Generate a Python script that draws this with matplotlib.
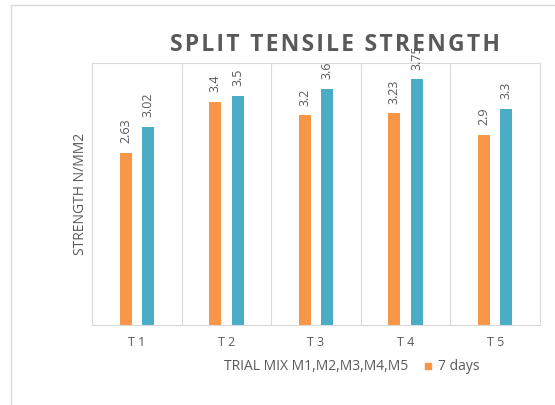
import numpy as np
import matplotlib.pyplot as plt
from matplotlib.lines import Line2D

trials = ['T 1', 'T 2', 'T 3', 'T 4', 'T 5']
days7 = [2.63, 3.4, 3.2, 3.23, 2.9]
days28 = [3.02, 3.5, 3.6, 3.75, 3.3]
labels7 = ['2.63', '3.4', '3.2', '3.23', '2.9']
labels28 = ['3.02', '3.5', '3.6', '3.75', '3.3']

orange = '#F79646'
teal = '#4BACC6'
grey = '#595959'
W, H = 555, 405

fig = plt.figure(figsize=(5.55, 4.05), dpi=100)
ax = fig.add_axes([92 / W, 1 - 325 / H, (540 - 92) / W, (325 - 63) / H])

x = np.arange(len(trials))
ax.bar(x - 0.125, days7, width=0.135, color=orange, label='7 days')
ax.bar(x + 0.125, days28, width=0.135, color=teal, label='28 days')

for i in range(len(trials)):
    ax.text(x[i] - 0.125, days7[i] + 0.15, labels7[i], rotation=90, ha='center', va='bottom',
            color=grey, fontsize=9, family='Open Sans')
    ax.text(x[i] + 0.125, days28[i] + 0.15, labels28[i], rotation=90, ha='center', va='bottom',
            color=grey, fontsize=9, family='Open Sans')

ax.set_xlim(-0.5, 4.5)
ax.set_ylim(0, 4)
ax.set_yticks([])
ax.set_xticks(x)
ax.set_xticklabels(trials, color=grey, fontsize=9, family='Open Sans')
ax.tick_params(axis='x', length=0, pad=8)
for b in np.arange(0.5, 4.5, 1):
    ax.axvline(b, color='#d9d9d9', lw=0.8, zorder=0)
for s in ax.spines.values():
    s.set_color('#d9d9d9')
    s.set_linewidth(0.8)

ax.set_ylabel('STRENGTH N/MM2', color=grey, fontsize=10, family='Open Sans', labelpad=3)

title = '\u200a'.join('SPLIT TENSILE STRENGTH')
fig.text(335 / W, 1 - 45 / H, title, ha='center', va='center',
         fontsize=16.5, fontweight='bold', color=grey, family=['Open Sans', 'DejaVu Sans'], zorder=5)

fig.text(316 / W, 1 - 366 / H, 'TRIAL MIX M1,M2,M3,M4,M5', ha='center', va='center',
         fontsize=10, color=grey, family='Open Sans')
fig.legend(handles=[Line2D([], [], marker='s', color=orange, ls='', markersize=5)],
           labels=['7 days'], loc='center left', bbox_to_anchor=(414 / W, 1 - 367 / H),
           frameon=False, labelcolor=grey, handletextpad=0.2,
           handlelength=1, borderpad=0, prop={'family': 'Open Sans', 'size': 10})

fig.add_artist(Line2D([11 / W, 11 / W], [0, 1 - 5 / H], color='#d9d9d9', lw=1))
fig.add_artist(Line2D([11 / W, 1], [1 - 5 / H, 1 - 5 / H], color='#d9d9d9', lw=1))

fig.savefig('out.png', dpi=100)
